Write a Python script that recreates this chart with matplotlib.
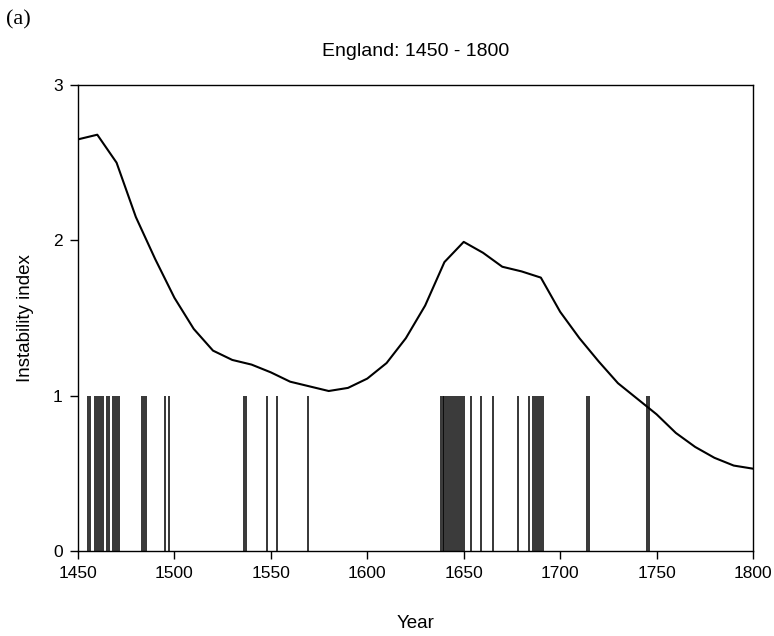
import matplotlib
matplotlib.use("Agg")
import matplotlib.pyplot as plt

years = list(range(1450, 1801, 10))
instability = [2.65, 2.68, 2.50, 2.15, 1.88, 1.63, 1.43, 1.29, 1.23, 1.20, 1.15, 1.09,
               1.06, 1.03, 1.05, 1.11, 1.21, 1.37, 1.58, 1.86, 1.99, 1.92, 1.83, 1.80,
               1.76, 1.54, 1.37, 1.22, 1.08, 0.98, 0.88, 0.76, 0.67, 0.60, 0.55, 0.53]

event_years = [1455, 1456, 1459, 1460, 1461, 1462, 1463, 1465, 1466, 1468, 1469, 1470,
               1471, 1483, 1484, 1485, 1495, 1497, 1536, 1537, 1548, 1553, 1569,
               1638, 1639, 1640, 1641, 1642, 1643, 1644, 1645, 1646, 1647, 1648, 1649,
               1650, 1654, 1659, 1665, 1678, 1684, 1686, 1687, 1688, 1689, 1690, 1691,
               1714, 1715, 1745, 1746]
event_height = 1

xticks = [1450, 1500, 1550, 1600, 1650, 1700, 1750, 1800]
yticks = [0, 1, 2, 3]

plt.rcParams['font.family'] = ['Liberation Sans', 'DejaVu Sans']

fig = plt.figure(figsize=(7.74, 6.36), dpi=100)
ax = fig.add_axes([78/774, 1-551/636, (753-78)/774, (551-85)/636])

ax.vlines(event_years, 0, event_height, color='black', linewidth=1.1)
ax.plot(years, instability, color='black', linewidth=1.5)

ax.set_xlim(1450, 1800)
ax.set_ylim(0, 3)
ax.set_xticks(xticks)
ax.set_yticks(yticks)
ax.tick_params(direction='out', length=6, width=1, labelsize=12.5, pad=5)
for s in ax.spines.values():
    s.set_linewidth(1)
ax.set_xlabel('Year', fontsize=13.5, labelpad=24)
ax.set_ylabel('Instability index', fontsize=13.5, labelpad=14)
ax.set_title('England: 1450 - 1800', fontsize=14, pad=21)
fig.text(6/774, 1-20/636, '(a)', fontsize=16, family='Liberation Serif', va='center', ha='left')

fig.savefig('out.png', dpi=100)
